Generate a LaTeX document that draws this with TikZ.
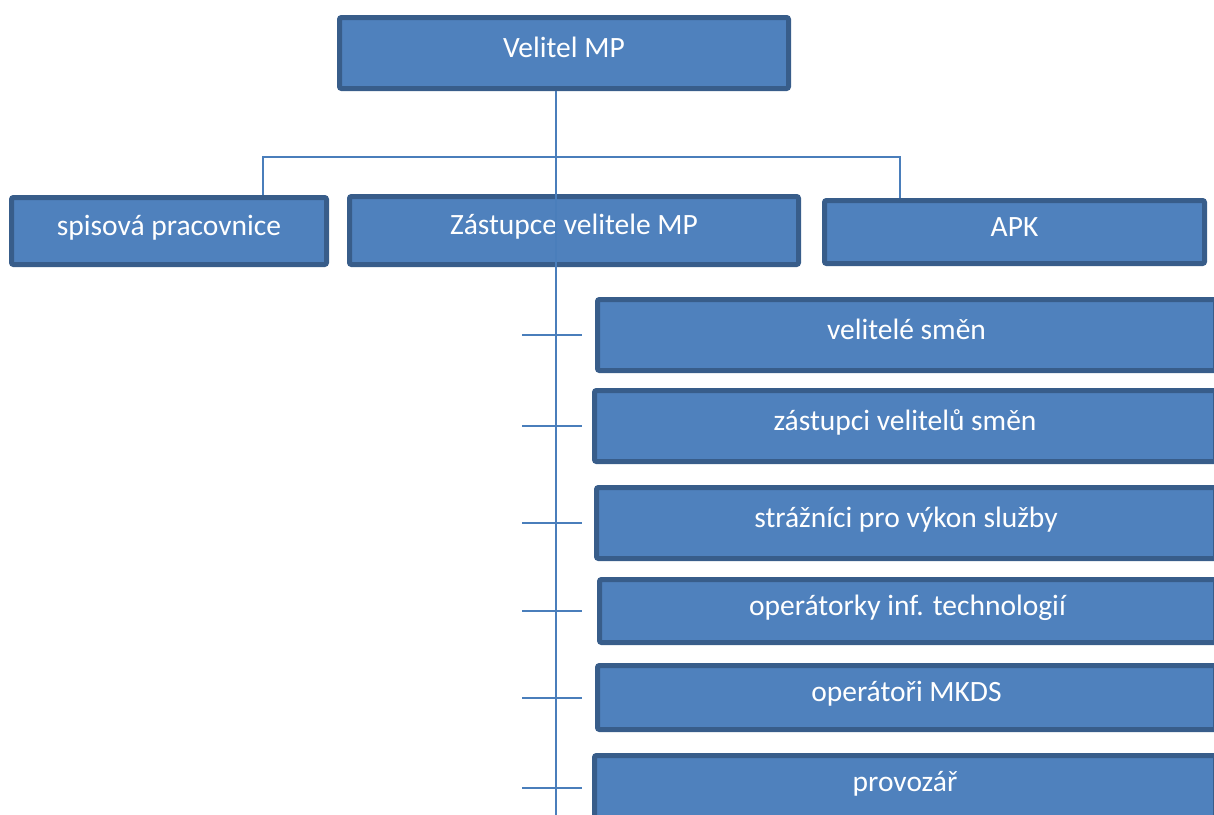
\documentclass[tikz,border=0pt]{standalone}
\usepackage{fontspec}
\setmainfont{Carlito}
\definecolor{boxfill}{HTML}{4F81BD}
\definecolor{boxline}{HTML}{385D8A}
\definecolor{conn}{HTML}{4A7EBB}
\begin{document}
\begin{tikzpicture}[x=1pt,y=-1pt,
  orgbox/.style={draw=boxline, fill=boxfill, line width=5pt, rounded corners=2pt,
    inner sep=0pt, anchor=north west, text=white,
    text height=20pt, text depth=12pt,
    font=\fontsize{29.5}{34}\selectfont},
  conline/.style={draw=conn, line width=2pt}]
\useasboundingbox (0,0) rectangle (1214,814);
\clip (0,0) rectangle (1214,814);
% boxes: north west anchor at the outer corner (outer sep = half line width), size = outer - 5
\node[orgbox, minimum width=449pt, minimum height=71pt] (vel) at (337,15) {Velitel MP};
\node[orgbox, minimum width=315pt, minimum height=67pt] (spis) at (9,195) {spisová pracovnice};
\node[orgbox, minimum width=449pt, minimum height=68pt] (zast) at (347,194) {Zástupce velitele MP};
\node[orgbox, minimum width=380pt, minimum height=63pt] (apk) at (822,198) {APK};
\node[orgbox, minimum width=618pt, minimum height=71pt] (r1) at (595,297) {velitelé směn};
\node[orgbox, minimum width=621pt, minimum height=71pt] (r2) at (592,388) {zástupci velitelů směn};
\node[orgbox, minimum width=619pt, minimum height=71pt] (r3) at (594,485) {strážníci pro výkon služby};
\node[orgbox, minimum width=616pt, minimum height=63pt] (r4) at (597,577) {operátorky inf. technologií};
\node[orgbox, minimum width=618pt, minimum height=64pt] (r5) at (595,663) {operátoři MKDS};
\node[orgbox, minimum width=621pt, minimum height=64pt] (r6) at (592,753) {provozář};
% connector coordinates
\coordinate (bus) at (555.5,157);
\coordinate (bl) at (263,157);
\coordinate (br) at (900,157);
\coordinate (bottom) at (555.5,820);
\coordinate (tl) at (522,0);
\coordinate (tr) at (582,0);
% connectors
\draw[conline] (bus |- vel.south) -- (bus);
\draw[conline] (bl |- spis.north) -- (bl) -- (br) -- (br |- apk.north);
\draw[conline] (bus) -- (bottom);
\foreach \n in {r1,r2,r3,r4,r5,r6}
  \draw[conline] (tl |- \n.west) -- (tr |- \n.west);
\end{tikzpicture}
\end{document}
